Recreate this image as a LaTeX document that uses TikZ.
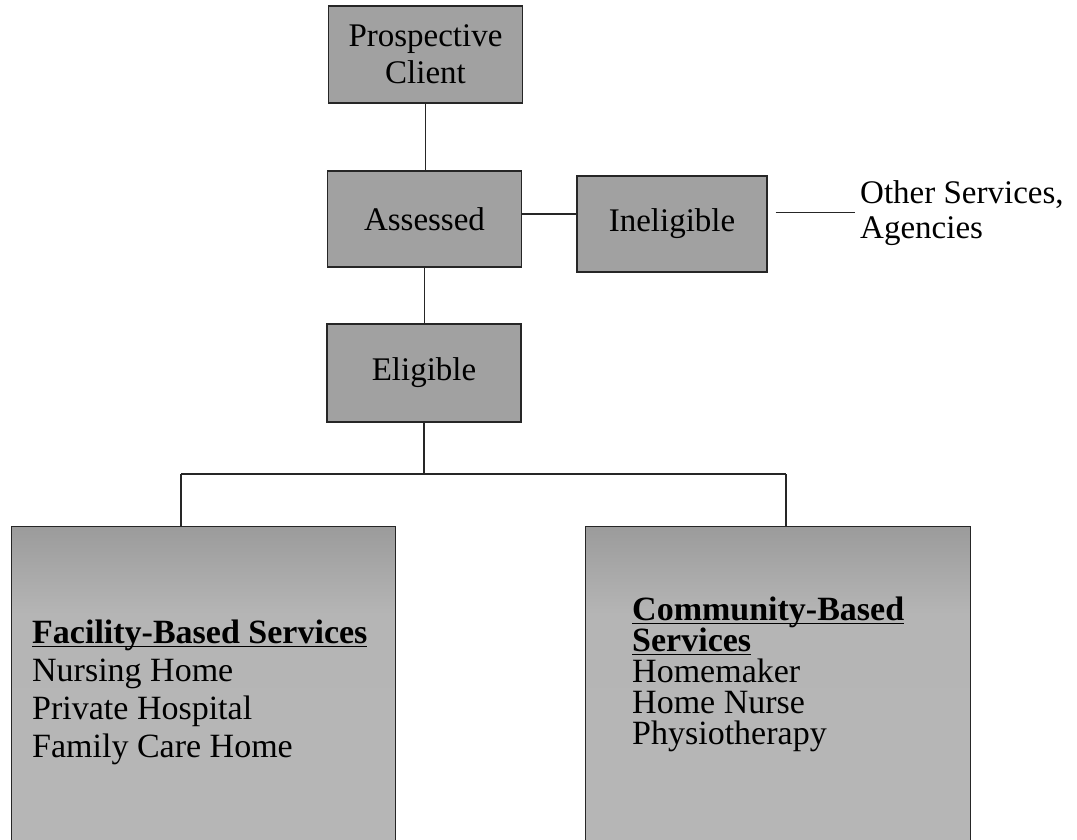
\documentclass[tikz,border=0pt]{standalone}
\usepackage{fontspec}
\setmainfont{Liberation Serif}
\usetikzlibrary{calc}

% underline sitting just under the baseline, crossing descenders
\newsavebox{\ulbox}
\newcommand{\uln}[1]{\sbox{\ulbox}{#1}\rlap{\rule[-3.5pt]{\wd\ulbox}{1.5pt}}\usebox{\ulbox}}

% darker band across the top of the two service panels
\pgfdeclareverticalshading{servicebg}{100bp}{%
  color(0bp)=(black!28); color(62bp)=(black!29);
  color(80bp)=(black!43); color(100bp)=(black!46)}

\tikzset{
  stage/.style={draw=black!85, line width=1.3pt, fill=black!37,
    minimum width=194pt, minimum height=97pt, inner sep=0pt,
    align=center, font=\fontsize{33}{37}\selectfont},
  svcbox/.style={draw=black!85, line width=1pt, shade, shading=servicebg,
    minimum width=384pt, minimum height=336pt, anchor=north west, inner sep=0pt},
  svctext/.style={anchor=north west, inner sep=0pt, align=left,
    font=\fontsize{34}{38}\selectfont},
  link/.style={draw=black!85, line width=1.2pt},
}

\begin{document}
\begin{tikzpicture}[x=1pt, y=-1pt]
  \useasboundingbox (0,0) rectangle (1077,839);
  \clip (0,0) rectangle (1077,839);

  % assessment stages
  \node[stage] (prosp) at (425.5,54.5) {Prospective\\Client};
  \node[stage, minimum height=96pt] (assessed) at (424.5,219) {Assessed};
  \node[stage, minimum height=98pt] (elig) at (424,373) {Eligible};
  \node[stage, minimum width=190pt, minimum height=96pt] (inelig) at (672,224) {Ineligible};

  \node[anchor=north west, inner sep=0pt, align=left,
        font=\fontsize{33}{35}\selectfont] (other) at (860,180)
        {Other Services,\\Agencies};

  % service panels (run off the bottom edge)
  \node[svcbox] (facil) at (11,526) {};
  \node[svcbox, minimum width=385pt] (comm) at (585,526) {};

  \node[svctext] (facilt) at (32,620)
    {\uln{\textbf{Facility-Based Services}}\\Nursing Home\\Private Hospital\\Family Care Home};
  \node[svctext, font=\fontsize{34}{31}\selectfont] (commt) at (632,597)
    {\uln{\textbf{Community-Based}}\\\uln{\textbf{Services}}\\Homemaker\\Home Nurse\\Physiotherapy};

  % connectors
  \coordinate (hlink) at (0,214);
  \coordinate (dropL) at (181,474);
  \coordinate (dropR) at (786,474);

  \draw[link] (prosp.south) -- (prosp.south |- assessed.north);
  \draw[link] (assessed.south) -- (assessed.south |- elig.north);
  \draw[link] (assessed.east |- hlink) -- (inelig.west |- hlink);
  \draw[link] ($(inelig.east |- other.west)+(8,0)$) -- ($(other.west)+(-5,0)$);

  \draw[link] (elig.south) -- (elig.south |- dropL);
  \draw[link] (dropL) -- (dropR);
  \draw[link] (dropL) -- (dropL |- facil.north);
  \draw[link] (dropR) -- (dropR |- comm.north);
\end{tikzpicture}
\end{document}
